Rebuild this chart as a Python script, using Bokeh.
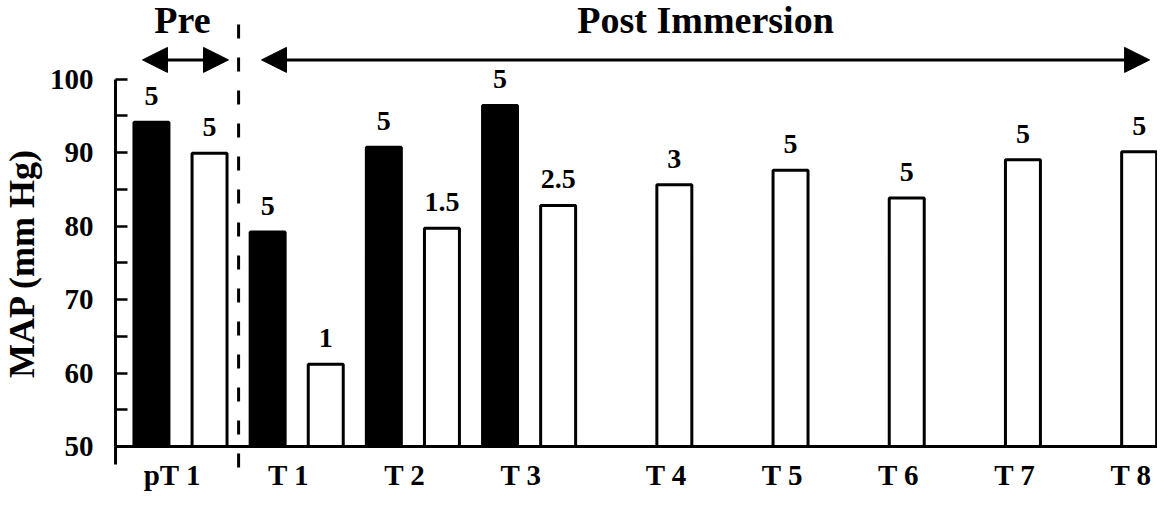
import numpy as np
from bokeh.plotting import figure
from bokeh.models import (Range1d, FixedTicker, CustomJSTickFormatter, Arrow,
                          NormalHead)
from bokeh.core.properties import value
from bokeh.embed import file_html
from bokeh.resources import INLINE

# ---------------- data ----------------
groups = ["pT 1", "T 1", "T 2", "T 3", "T 4", "T 5", "T 6", "T 7", "T 8"]
black_map = [94.1, 79.2, 90.7, 96.4]          # filled bars (first four groups)
black_n = ["5", "5", "5", "5"]
white_map = [89.9, 61.2, 79.7, 82.8, 85.6, 87.6, 83.8, 89.0, 90.1]  # open bars
white_n = ["5", "1", "1.5", "2.5", "3", "5", "5", "5", "5"]
y_ticks = [50, 60, 70, 80, 90, 100]
y_minor = [55, 65, 75, 85, 95]
periods = ["Pre", "Post Immersion"]

# ---------------- style / layout ----------------
FONT = value("Liberation Serif")
W, H = 1157, 491
X0, X1 = -1.549, 8.408
Y0, Y1 = 43.88, 110.68
YAX_X = -0.559
OFF = 0.25
BAR_W = 0.301

gi = np.arange(len(groups))
bx = gi[:len(black_map)] - OFF
wx = gi + OFF
tick_pos = [round(float(i + (0.0 if i < len(black_map) else OFF) - 0.07), 3) for i in gi]

p = figure(width=W, height=H, output_backend="svg", toolbar_location=None,
           x_range=Range1d(X0, X1), y_range=Range1d(Y0, Y1), min_border=0)
p.outline_line_color = None
p.grid.visible = False
p.background_fill_color = "white"
p.border_fill_color = "white"

# bars
p.vbar(x=bx, top=black_map, bottom=50, width=BAR_W, fill_color="black",
       line_color="black", line_width=3)
p.vbar(x=wx, top=white_map, bottom=50, width=BAR_W, fill_color="white",
       line_color="black", line_width=3)

# n labels
lbl_kw = dict(text_align="center", text_baseline="alphabetic", y_offset=-26,
              text_font=FONT, text_font_style="bold", text_font_size="28px",
              text_color="black")
p.text(x=bx, y=black_map, text=black_n, **lbl_kw)
p.text(x=wx, y=white_map, text=white_n, **lbl_kw)

# period divider (between pT 1 and T 1)
div_x = 0.5
p.segment(x0=[div_x], y0=[107.4], x1=[div_x], y1=[45.8], line_color="black",
          line_width=3, line_dash="14 19")

# y axis stub below x axis
p.segment(x0=[YAX_X], y0=[50], x1=[YAX_X], y1=[47.55], line_color="black", line_width=3)

# period arrows
arr_y = 102.6
pre_x = (0 - 0.327, div_x - 0.087)
post_x = (div_x + 0.197, gi[-1] + 0.34)
for xs in (pre_x, post_x):
    p.add_layout(Arrow(start=NormalHead(size=25, fill_color="black", line_color="black"),
                       end=NormalHead(size=25, fill_color="black", line_color="black"),
                       x_start=xs[0], y_start=arr_y, x_end=xs[1], y_end=arr_y,
                       line_width=3, line_color="black"))

p.text(x=[0.017, (post_x[0] + post_x[1]) / 2], y=[108.0, 108.0], text=periods,
       text_align="center", text_baseline="alphabetic", text_font=FONT,
       text_font_style="bold", text_font_size="38px", text_color="black")

# y axis
yax = p.yaxis[0]
yax.fixed_location = YAX_X
yax.bounds = (50, 100)
yax.ticker = FixedTicker(ticks=y_ticks, minor_ticks=y_minor)
yax.major_tick_in = 12
yax.major_tick_out = 0
yax.minor_tick_in = 12
yax.minor_tick_out = 0
yax.axis_line_width = 3
yax.major_tick_line_width = 2.5
yax.minor_tick_line_width = 2.5
yax.major_label_text_font = "Liberation Serif"
yax.major_label_text_font_style = "bold"
yax.major_label_text_font_size = "29px"
yax.major_label_text_color = "black"
yax.major_label_standoff = 22
yax.axis_label = "MAP (mm Hg)"
yax.axis_label_text_font = "Liberation Serif"
yax.axis_label_text_font_style = "bold"
yax.axis_label_text_font_size = "36px"
yax.axis_label_text_color = "black"
yax.axis_label_standoff = 5

# x axis
xax = p.xaxis[0]
xax.fixed_location = 50
xax.bounds = (YAX_X, X1)
xax.ticker = FixedTicker(ticks=tick_pos)
xax.formatter = CustomJSTickFormatter(args=dict(labels=groups), code="return labels[index];")
xax.major_tick_in = 0
xax.major_tick_out = 0
xax.minor_tick_in = 0
xax.minor_tick_out = 0
xax.axis_line_width = 3
xax.major_label_standoff = 12
xax.major_label_text_font = "Liberation Serif"
xax.major_label_text_font_style = "bold"
xax.major_label_text_font_size = "29px"
xax.major_label_text_color = "black"

open("out.html", "w").write(file_html(p, INLINE))
